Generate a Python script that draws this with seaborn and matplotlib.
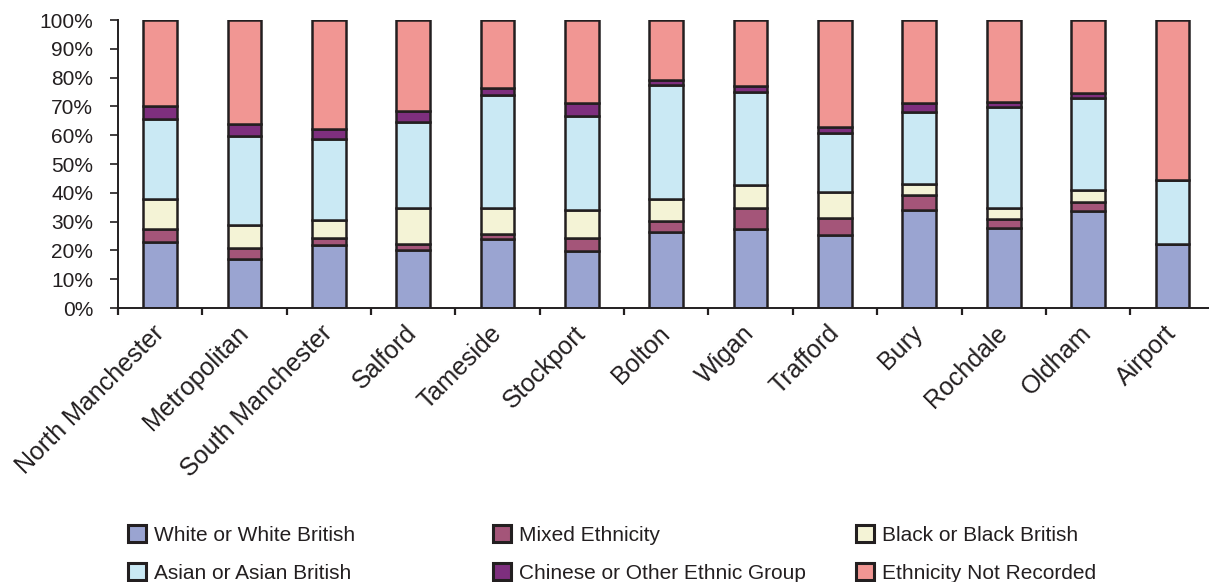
import matplotlib
matplotlib.use("Agg")
import matplotlib.pyplot as plt
from matplotlib.patches import Patch
from matplotlib.ticker import FixedLocator, PercentFormatter
import numpy as np
import pandas as pd
import seaborn as sns

# Share of stop-and-search records by self-defined ethnicity, per division (%)
divisions = ["North Manchester", "Metropolitan", "South Manchester", "Salford",
             "Tameside", "Stockport", "Bolton", "Wigan", "Trafford", "Bury",
             "Rochdale", "Oldham", "Airport"]
white = [22.8, 16.9, 21.8, 20.0, 24.0, 19.8, 26.3, 27.3, 25.2, 34.0, 27.7, 33.7, 22.1]
mixed = [4.7, 4.0, 2.4, 2.2, 1.7, 4.4, 4.0, 7.5, 5.9, 5.1, 3.2, 3.2, 0.0]
black = [10.3, 7.9, 6.2, 12.6, 8.9, 9.7, 7.5, 7.9, 9.3, 4.1, 3.9, 4.0, 0.0]
asian = [27.9, 30.9, 28.3, 29.9, 39.5, 32.9, 39.6, 32.4, 20.4, 24.7, 35.1, 31.9, 22.3]
chinese = [4.3, 4.1, 3.6, 3.7, 2.3, 4.3, 1.8, 2.0, 1.9, 3.4, 1.7, 1.7, 0.0]
not_recorded = [30.0, 36.2, 37.7, 31.6, 23.6, 28.9, 20.8, 22.9, 37.3, 28.7, 28.4, 25.5, 55.6]

series = [
    ("White or White British", white, "#9AA4D1"),
    ("Mixed Ethnicity", mixed, "#A45579"),
    ("Black or Black British", black, "#F4F3D6"),
    ("Asian or Asian British", asian, "#CAE9F4"),
    ("Chinese or Other Ethnic Group", chinese, "#7E2F7E"),
    ("Ethnicity Not Recorded", not_recorded, "#F19693"),
]

edge = "#231F20"
text_color = "#231F20"

sns.set_theme(style="white")
plt.rcParams["font.family"] = ["Liberation Sans", "DejaVu Sans"]
plt.rcParams["text.color"] = text_color

fig = plt.figure(figsize=(12.09, 5.82), dpi=100)
ax = fig.add_axes([118 / 1209, 1 - 308 / 582, 13 * 84.35 / 1209, 288 / 582])

bottom = np.zeros(len(divisions))
for name, vals, col in series:
    df = pd.DataFrame({"division": divisions, "pct": vals})
    sns.barplot(data=df, x="division", y="pct", bottom=bottom, color=col,
                width=0.4, edgecolor=edge, linewidth=1.8, ax=ax,
                errorbar=None, saturation=1)
    bottom = bottom + np.array(vals)

ax.set_xlim(-0.5, len(divisions) - 0.5)
ax.set_ylim(0, 100)
ax.set_xlabel("")
ax.set_ylabel("")

ax.set_yticks(np.arange(0, 101, 10))
ax.yaxis.set_major_formatter(PercentFormatter(100, decimals=0))
ax.tick_params(axis="y", direction="out", length=5.8, width=1.2, color=edge,
               labelsize=15, labelcolor=text_color, pad=12, left=True)

# category labels at bar centres, tick marks on the boundaries
ax.set_xticks(range(len(divisions)))
ax.set_xticklabels(divisions, rotation=45, ha="right", va="center",
                   rotation_mode="anchor", fontsize=18, color=text_color)
ax.tick_params(axis="x", which="major", length=0, pad=15.5)
ax.xaxis.set_minor_locator(FixedLocator(np.arange(-0.5, len(divisions), 1.0)))
ax.tick_params(axis="x", which="minor", direction="out", length=5, width=1.6,
               color=edge, bottom=True)

for side in ["top", "right"]:
    ax.spines[side].set_visible(False)
for side in ["left", "bottom"]:
    ax.spines[side].set_color(edge)
    ax.spines[side].set_linewidth(1.4)

# legend: three columns of two entries each
col_x = [128 / 1209, 493 / 1209, 856 / 1209]
for i in range(3):
    pair = [series[i], series[i + 3]]
    handles = [Patch(facecolor=c, edgecolor=edge, linewidth=2.2, label=n)
               for n, _, c in pair]
    fig.legend(handles=handles, loc="upper left",
               bbox_to_anchor=(col_x[i], 1 - 525 / 582), frameon=False,
               fontsize=15, handlelength=0.85, handleheight=0.85,
               handletextpad=0.4, labelspacing=0.9, borderaxespad=0,
               borderpad=0, labelcolor=text_color)

fig.savefig("out.png", dpi=100)
